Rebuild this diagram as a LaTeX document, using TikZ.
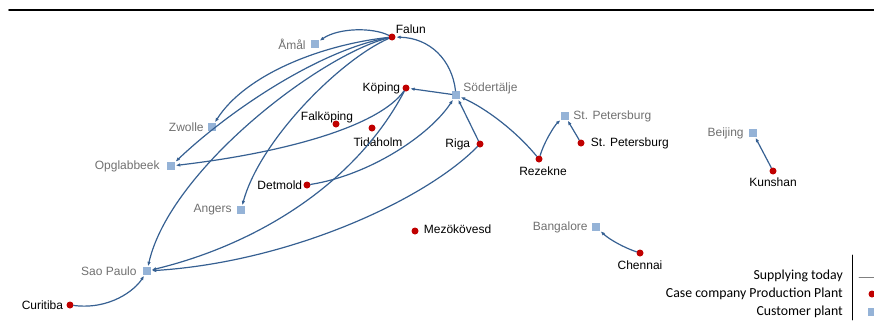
\documentclass[tikz,border=0pt]{standalone}
\usepackage{fontspec}
\setmainfont{Liberation Sans}
\newfontfamily\legendfont{Carlito}
\usetikzlibrary{arrows.meta,positioning}
\definecolor{linkblue}{RGB}{54,96,146}
\definecolor{plantred}{RGB}{192,0,0}
\definecolor{custblue}{RGB}{149,179,215}
\definecolor{custgray}{RGB}{112,112,112}
\tikzset{
  plant/.style={circle,fill=plantred,minimum size=7pt,inner sep=0pt},
  cust/.style={rectangle,fill=custblue,minimum size=8pt,inner sep=0pt},
  plabel/.style={inner sep=1pt,font=\fontsize{12}{14}\selectfont,text=black},
  clabel/.style={inner sep=1pt,font=\fontsize{12}{14}\selectfont,text=custgray},
  legtext/.style={inner sep=1pt,anchor=east,font=\legendfont\fontsize{13.8}{16}\selectfont},
  link/.style={->,draw=linkblue,line width=1.2pt,shorten >=0.5pt}
}
\begin{document}
\begin{tikzpicture}[line cap=round,line join=round,>={Latex[length=4.5pt,width=3.5pt]},x=1pt,y=-1pt]
\useasboundingbox (0,0) rectangle (874,327);
\draw [line width=1.8pt] (9,10)-- (874,10);
% plants
\node[plant] (falun) at (392,37) {};
\node[plant] (koping) at (406,88) {};
\node[plant] (falk) at (336,124) {};
\node[plant] (tid) at (372,128) {};
\node[plant] (riga) at (480,144) {};
\node[plant] (rezekne) at (539,159) {};
\node[plant] (stpdot) at (581,143) {};
\node[plant] (kunshan) at (773,171) {};
\node[plant] (detmold) at (307,185) {};
\node[plant] (curitiba) at (70,305) {};
\node[plant] (mezo) at (415,231) {};
\node[plant] (chennai) at (640,253) {};
% customers
\node[cust] (amal) at (315,44) {};
\node[cust] (sod) at (456,95) {};
\node[cust] (stpsq) at (565,116) {};
\node[cust] (beijing) at (753,133) {};
\node[cust] (zwolle) at (212,127) {};
\node[cust] (opgl) at (171,166) {};
\node[cust] (angers) at (241,210) {};
\node[cust] (saop) at (147,271) {};
\node[cust] (bangalore) at (596,227) {};
% labels
\node[plabel,above right=0pt and 0pt of falun] (lfalun) {Falun};
\node[plabel,left=1pt of koping] (lkoping) {Köping};
\node[plabel,above=-4pt of falk,xshift=-9pt] (lfalk) {Falköping};
\node[plabel,below=5pt of tid,xshift=6pt] (ltid) {Tidaholm};
\node[plabel,left=5pt of riga] (lriga) {Riga};
\node[plabel,below=3pt of rezekne,xshift=4pt] (lrezekne) {Rezekne};
\node[plabel,right=5pt of stpdot] (lstpdot) {St. Petersburg};
\node[plabel,below=2pt of kunshan] (lkunshan) {Kunshan};
\node[plabel,left=0pt of detmold] (ldetmold) {Detmold};
\node[plabel,left=2pt of curitiba] (lcuritiba) {Curitiba};
\node[plabel,right=4pt of mezo,yshift=2pt] (lmezo) {Mezökövesd};
\node[plabel,below=3pt of chennai] (lchennai) {Chennai};
\node[clabel,left=4pt of amal] (lamal) {Åmål};
\node[clabel,right=2pt of sod,yshift=7pt] (lsod) {Södertälje};
\node[clabel,right=3pt of stpsq] (lstpsq) {St. Petersburg};
\node[clabel,left=4pt of beijing] (lbeijing) {Beijing};
\node[clabel,left=3pt of zwolle] (lzwolle) {Zwolle};
\node[clabel,left=6pt of opgl] (lopgl) {Opglabbeek};
\node[clabel,left=4pt of angers] (langers) {Angers};
\node[clabel,left=5pt of saop] (lsaop) {Sao Paulo};
\node[clabel,left=3pt of bangalore] (lbangalore) {Bangalore};
% supply links
\draw[link] (falun) .. controls (372,27) and (338,28) .. (amal);
\draw[link] (falun) .. controls (320,45) and (245,75) .. (zwolle);
\draw[link] (falun) .. controls (320,50) and (230,110) .. (opgl);
\draw[link] (falun) .. controls (320,55) and (170,170) .. (saop);
\draw[link] (falun) .. controls (340,60) and (260,140) .. (angers);
\draw[link] (sod) .. controls (452,60) and (430,38) .. (falun);
\draw[link] (sod) -- (koping);
\draw[link] (koping) .. controls (380,125) and (290,152) .. (opgl);
\draw[link] (koping) .. controls (355,185) and (255,245) .. (saop);
\draw[link] (detmold) .. controls (370,175) and (430,135) .. (sod);
\draw[link] (riga) -- (sod);
\draw[link] (riga) .. controls (425,200) and (290,262) .. (saop);
\draw[link] (rezekne) .. controls (515,130) and (485,108) .. (sod);
\draw[link] (rezekne) .. controls (545,140) and (555,125) .. (stpsq);
\draw[link] (stpdot) -- (stpsq);
\draw[link] (kunshan) -- (beijing);
\draw[link] (chennai) .. controls (625,248) and (610,240) .. (bangalore);
\draw[link] (curitiba) .. controls (110,310) and (135,290) .. (saop);
% legend
\draw [line width=0.8pt] (852,255)-- (852,320);
\node[legtext] (legsup) at (844,276) {Supplying today};
\node[legtext] (legcase) at (844,294) {Case company Production Plant};
\node[legtext] (legcust) at (844,312) {Customer plant};
\coordinate (legline) at (859,277);
\coordinate (legend) at (880,277);
\draw [gray,line width=0.8pt] (legline)-- (legend);
\node[plant] (legdot) at (872,294) {};
\node[cust] (legsq) at (872,312) {};
\end{tikzpicture}
\end{document}
